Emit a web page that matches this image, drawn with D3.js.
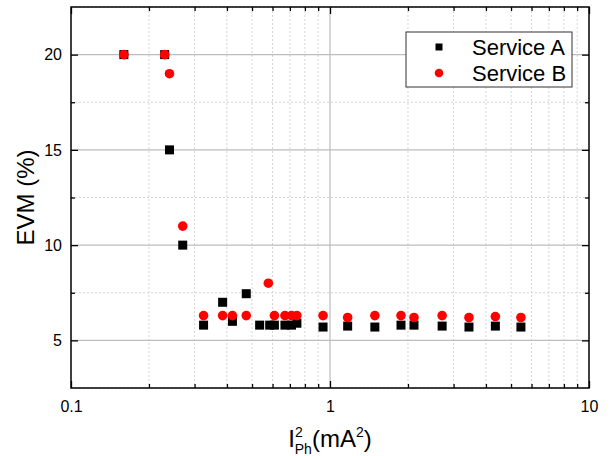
<!DOCTYPE html>
<html>
<head>
<meta charset="utf-8">
<script src="https://cdn.jsdelivr.net/npm/d3@7"></script>
<style>
  body { margin: 0; background: #fff; }
  svg { display: block; font-family: "Liberation Sans", Arial, sans-serif; }
</style>
</head>
<body>
<svg width="616" height="456"></svg>
<script>
// some data
const seriesNames = ['Service A', 'Service B'];

const currentA = [0.16, 0.23, 0.24, 0.27, 0.325, 0.385, 0.42, 0.475, 0.535, 0.585, 0.61, 0.67, 0.71, 0.745, 0.94, 1.17, 1.49, 1.88, 2.11, 2.71, 3.44, 4.35, 5.46];
const evmA     = [20, 20, 15, 10, 5.8, 7.0, 6.0, 7.45, 5.8, 5.8, 5.8, 5.8, 5.8, 5.9, 5.7, 5.75, 5.7, 5.8, 5.8, 5.75, 5.7, 5.75, 5.7];

const currentB = [0.16, 0.23, 0.24, 0.27, 0.325, 0.385, 0.42, 0.475, 0.578, 0.61, 0.67, 0.71, 0.745, 0.94, 1.17, 1.49, 1.88, 2.11, 2.71, 3.44, 4.35, 5.46];
const evmB     = [20, 20, 19, 11, 6.3, 6.3, 6.3, 6.3, 8.0, 6.3, 6.3, 6.3, 6.3, 6.3, 6.2, 6.3, 6.3, 6.2, 6.3, 6.2, 6.25, 6.2];

const xMajor = [0.1, 1, 10];
const xMinor = [0.2, 0.3, 0.4, 0.5, 0.6, 0.7, 0.8, 0.9, 2, 3, 4, 5, 6, 7, 8, 9];
const yMajor = [5, 10, 15, 20];
const yMinor = [2.5, 7.5, 12.5, 17.5, 22.5];

drawChart();

function drawChart() {
  const margin = ({top: 7, right: 27, bottom: 68, left: 71});
  const width = 616;
  const height = 456;
  const svg = d3.select('svg');

  const x = d3.scaleLog()
    .domain([0.1, 10])
    .range([margin.left, width - margin.right]);

  const y = d3.scaleLinear()
    .domain([2.5, 22.5])
    .range([height - margin.bottom, margin.top]);

  const left = margin.left, right = width - margin.right;
  const top = margin.top, bottom = height - margin.bottom;

  // minor grid (dotted)
  svg.append('g')
    .selectAll('line')
    .data(xMinor)
    .join('line')
    .attr('x1', d => x(d)).attr('x2', d => x(d))
    .attr('y1', top).attr('y2', bottom)
    .attr('stroke', '#d4d4d4')
    .attr('stroke-dasharray', '2,2');

  svg.append('g')
    .selectAll('line')
    .data(yMinor)
    .join('line')
    .attr('x1', left).attr('x2', right)
    .attr('y1', d => y(d)).attr('y2', d => y(d))
    .attr('stroke', '#d4d4d4')
    .attr('stroke-dasharray', '2,2');

  // major grid (solid)
  svg.append('g')
    .selectAll('line')
    .data([1])
    .join('line')
    .attr('x1', d => x(d)).attr('x2', d => x(d))
    .attr('y1', top).attr('y2', bottom)
    .attr('stroke', '#bdbdbd')
    .attr('stroke-width', 1.2);

  svg.append('g')
    .selectAll('line')
    .data(yMajor)
    .join('line')
    .attr('x1', left).attr('x2', right)
    .attr('y1', d => y(d)).attr('y2', d => y(d))
    .attr('stroke', '#bdbdbd')
    .attr('stroke-width', 1.2);

  // ticks pointing inward on all four sides
  const tickStyle = g => {
    g.select('.domain').remove();
    g.selectAll('.tick line').attr('stroke', '#000').attr('stroke-width', 1.3);
  };

  svg.append('g')
    .attr('transform', `translate(0,${bottom})`)
    .call(d3.axisBottom(x).tickValues(xMajor).tickSize(-7).tickPadding(13).tickFormat(d3.format('')))
    .call(tickStyle)
    .call(g => g.selectAll('text').attr('font-size', 16).attr('fill', '#000').attr('font-family', null));
  svg.append('g')
    .attr('transform', `translate(0,${bottom})`)
    .call(d3.axisBottom(x).tickValues(xMinor).tickSize(-4).tickFormat(''))
    .call(tickStyle);
  svg.append('g')
    .attr('transform', `translate(0,${top})`)
    .call(d3.axisTop(x).tickValues(xMajor).tickSize(-7).tickFormat(''))
    .call(tickStyle);
  svg.append('g')
    .attr('transform', `translate(0,${top})`)
    .call(d3.axisTop(x).tickValues(xMinor).tickSize(-4).tickFormat(''))
    .call(tickStyle);

  svg.append('g')
    .attr('transform', `translate(${left},0)`)
    .call(d3.axisLeft(y).tickValues(yMajor).tickSize(-7).tickPadding(9))
    .call(tickStyle)
    .call(g => g.selectAll('text').attr('font-size', 16).attr('fill', '#000').attr('font-family', null));
  svg.append('g')
    .attr('transform', `translate(${left},0)`)
    .call(d3.axisLeft(y).tickValues(yMinor.slice(1, -1)).tickSize(-4).tickFormat(''))
    .call(tickStyle);
  svg.append('g')
    .attr('transform', `translate(${right},0)`)
    .call(d3.axisRight(y).tickValues(yMajor).tickSize(-7).tickFormat(''))
    .call(tickStyle);
  svg.append('g')
    .attr('transform', `translate(${right},0)`)
    .call(d3.axisRight(y).tickValues(yMinor.slice(1, -1)).tickSize(-4).tickFormat(''))
    .call(tickStyle);

  // frame
  svg.append('rect')
    .attr('x', left).attr('y', top)
    .attr('width', right - left).attr('height', bottom - top)
    .attr('fill', 'none')
    .attr('stroke', '#000')
    .attr('stroke-width', 1.5);

  // Service A squares
  const sq = 9;
  svg.append('g')
    .selectAll('rect')
    .data(d3.zip(currentA, evmA))
    .join('rect')
    .attr('x', d => x(d[0]) - sq / 2)
    .attr('y', d => y(d[1]) - sq / 2)
    .attr('width', sq).attr('height', sq)
    .attr('fill', '#000');

  // Service B circles
  svg.append('g')
    .selectAll('circle')
    .data(d3.zip(currentB, evmB))
    .join('circle')
    .attr('cx', d => x(d[0]))
    .attr('cy', d => y(d[1]))
    .attr('r', 4.8)
    .attr('fill', '#ff0000');

  // axis titles
  svg.append('text')
    .attr('transform', `translate(34,${(top + bottom) / 2}) rotate(-90)`)
    .attr('text-anchor', 'middle')
    .attr('font-size', 24)
    .text('EVM (%)');

  const xt = svg.append('text')
    .attr('x', x(1))
    .attr('y', 447)
    .attr('text-anchor', 'middle')
    .attr('font-size', 24);
  xt.append('tspan').text('I');
  xt.append('tspan').attr('font-size', 14).attr('dy', -10).text('2');
  xt.append('tspan').attr('font-size', 14).attr('dx', -8).attr('dy', 17).text('Ph');
  xt.append('tspan').attr('dy', -7).text('(mA');
  xt.append('tspan').attr('font-size', 14).attr('dy', -10).text('2');
  xt.append('tspan').attr('dy', 10).text(')');

  // legend
  const lg = svg.append('g');
  lg.append('rect')
    .attr('x', 406).attr('y', 32)
    .attr('width', 166).attr('height', 55)
    .attr('fill', '#fff')
    .attr('stroke', '#333')
    .attr('stroke-width', 1);
  lg.append('rect')
    .attr('x', 439 - 3.5).attr('y', 47 - 3.5)
    .attr('width', 7).attr('height', 7)
    .attr('fill', '#000');
  lg.append('circle')
    .attr('cx', 439).attr('cy', 73)
    .attr('r', 4.3)
    .attr('fill', '#ff0000');
  lg.selectAll('text')
    .data(seriesNames)
    .join('text')
    .attr('x', 472)
    .attr('y', (d, i) => 55 + i * 26)
    .attr('font-size', 22)
    .text(d => d);
}
</script>
</body>
</html>
